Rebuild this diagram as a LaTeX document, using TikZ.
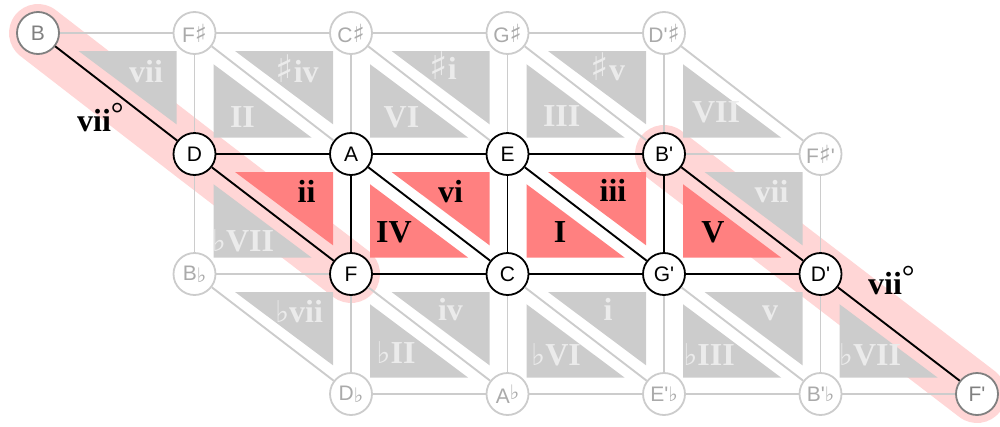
\documentclass[tikz,border=0pt]{standalone}
\usepackage{fontspec}
\setmainfont{Liberation Serif}
\setsansfont{Liberation Sans}
\newfontfamily\symf{DejaVu Sans}
\usetikzlibrary{backgrounds}
\definecolor{gline}{HTML}{CCCCCC}
\definecolor{gtext}{HTML}{AAAAAA}
\definecolor{gtri}{HTML}{CCCCCC}
\definecolor{glab}{HTML}{EBEBEB}
\definecolor{rtri}{HTML}{FF8080}
\definecolor{halo}{HTML}{FFD6D6}
\definecolor{midg}{HTML}{808080}
\newcommand\shp[1]{{\symf\fontsize{#1}{#1}\selectfont ♯}}
\newcommand\flt[1]{{\symf\fontsize{#1}{#1}\selectfont ♭}}
\newcommand\pr{\textquotesingle}
\newcommand\ns{\shp{25}}
\newcommand\nf{\flt{20}}
\newcommand\ls{\shp{38}}
\newcommand\lf{\flt{30}}
\newcommand\dimring{\raisebox{7pt}{\mdseries\fontsize{32}{32}\selectfont °}}
\begin{document}
\begin{tikzpicture}[x=1pt,y=-1pt,
  note/.style={circle, fill=white, line width=1.8pt, minimum size=42pt, inner sep=0pt, font=\sffamily\fontsize{21}{21}\selectfont},
  noteon/.style={note, draw=black, text=black},
  noteoff/.style={note, draw=gline, text=gtext},
  noteend/.style={note, draw=midg, text=midg},
  blackline/.style={draw=black, line width=1.9pt},
  greyline/.style={draw=gline, line width=1.9pt},
  halopath/.style={draw=halo, line width=58pt, line cap=round, line join=round},
  redtri/.style={fill=rtri},
  greytri/.style={fill=gtri},
  lab/.style={anchor=base, inner sep=0pt, font=\bfseries\fontsize{32}{32}\selectfont},
  redlab/.style={lab, text=black},
  greylab/.style={lab, text=glab}
]
\useasboundingbox (0,0) rectangle (1000,426);
\clip (0,0) rectangle (1000,426);
% notes, row 0
\node[noteend] (B) at (38,33) {B};
\node[noteoff] (Fs) at (194.5,33) {F\ns};
\node[noteoff] (Cs) at (351,33) {C\ns};
\node[noteoff] (Gs) at (507.5,33) {G\ns};
\node[noteoff] (Dps) at (664,33) {D\pr\ns};
% row 1
\node[noteon] (D) at (194.5,154) {D};
\node[noteon] (A) at (351,154) {A};
\node[noteon] (E) at (507.5,154) {E};
\node[noteon] (Bp) at (664,154) {B\pr};
\node[noteoff] (Fsp) at (820.5,154) {F\ns\pr};
% row 2
\node[noteoff] (Bb) at (194.5,274) {B\raisebox{-2pt}{\nf}};
\node[noteon] (F) at (351,274) {F};
\node[noteon] (C) at (507.5,274) {C};
\node[noteon] (Gp) at (664,274) {G\pr};
\node[noteon] (Dp) at (820.5,274) {D\pr};
% row 3
\node[noteoff] (Db) at (351,394) {D\raisebox{-2pt}{\nf}};
\node[noteoff] (Ab) at (507.5,394) {A\raisebox{4pt}{\nf}};
\node[noteoff] (Epb) at (664,394) {E\pr\nf};
\node[noteoff] (Bpb) at (820.5,394) {B\pr\nf};
\node[noteend] (Fp) at (977,394) {F\pr};

\begin{scope}[on background layer]
\draw[halopath] (B.center) -- (D.center) -- (F.center);
\draw[halopath] (Bp.center) -- (Dp.center) -- (Fp.center);
% upper-right triangles (relative to top-right note)
\foreach \n/\s in {Fs/greytri, Cs/greytri, Gs/greytri, Dps/greytri,
                   A/redtri, E/redtri, Bp/redtri, Fsp/greytri,
                   F/greytri, C/greytri, Gp/greytri, Dp/greytri}
  \fill[\s] ([shift={(-116,18)}]\n.center) -- ([shift={(-18,18)}]\n.center) -- ([shift={(-18,91.3)}]\n.center) -- cycle;
% lower-left triangles (relative to bottom-left note)
\foreach \n/\s in {D/greytri, A/greytri, E/greytri, Bp/greytri,
                   Bb/greytri, F/redtri, C/redtri, Gp/redtri,
                   Db/greytri, Ab/greytri, Epb/greytri, Bpb/greytri}
  \fill[\s] ([shift={(19,-89.8)}]\n.center) -- ([shift={(19,-16.5)}]\n.center) -- ([shift={(117,-16.5)}]\n.center) -- cycle;
\end{scope}

% grey connectors
\foreach \a/\b in {B/Fs, Fs/Cs, Cs/Gs, Gs/Dps,
                   Fs/D, Cs/A, Gs/E, Dps/Bp,
                   Fs/A, Cs/E, Gs/Bp, Dps/Fsp,
                   Bp/Fsp, D/Bb, Fsp/Dp, Bb/F,
                   Bb/Db, F/Ab, C/Epb, Gp/Bpb,
                   F/Db, C/Ab, Gp/Epb, Dp/Bpb,
                   Db/Ab, Ab/Epb, Epb/Bpb, Bpb/Fp}
  \draw[greyline] (\a) -- (\b);
% black connectors
\foreach \a/\b in {B/D, D/F, D/A, A/E, E/Bp, A/F, E/C, Bp/Gp,
                   A/C, E/Gp, Bp/Dp, F/C, C/Gp, Gp/Dp, Dp/Fp}
  \draw[blackline] (\a) -- (\b);

% chord labels
\node[greylab] (l1) at (146,82) {vii};
\node[greylab] (l2) at (297,82) {\ls iv};
\node[greylab] (l3) at (443,79) {\ls i};
\node[greylab] (l4) at (608,80) {\ls v};
\node[greylab] (l5) at (242.5,127) {II};
\node[greylab] (l6) at (401.5,127) {VI};
\node[greylab] (l7) at (561.7,126) {III};
\node[greylab] (l8) at (716,122) {VII};
\node[redlab] (l9) at (306.5,202) {ii};
\node[redlab] (l10) at (450.5,202) {vi};
\node[redlab] (l11) at (613,201) {iii};
\node[greylab] (l12) at (771.5,202) {vii};
\node[greylab] (l13) at (243,251) {\lf VII};
\node[redlab] (l14) at (394,242) {IV};
\node[redlab] (l15) at (560,242) {I};
\node[redlab] (l16) at (713,242) {V};
\node[greylab] (l17) at (299,322) {\lf vii};
\node[greylab] (l18) at (450.5,320) {iv};
\node[greylab] (l19) at (608,320) {i};
\node[greylab] (l20) at (770,320) {v};
\node[greylab] (l21) at (396,363) {\lf II};
\node[greylab] (l22) at (556,365) {\lf VI};
\node[greylab] (l23) at (709,365) {\lf III};
\node[greylab] (l24) at (870,365) {\lf VII};
% diminished labels
\node[lab, anchor=base west, text=black] (dimL) at (77,131) {vii\dimring};
\node[lab, anchor=base west, text=black] (dimR) at (868,294) {vii\dimring};
\end{tikzpicture}
\end{document}
